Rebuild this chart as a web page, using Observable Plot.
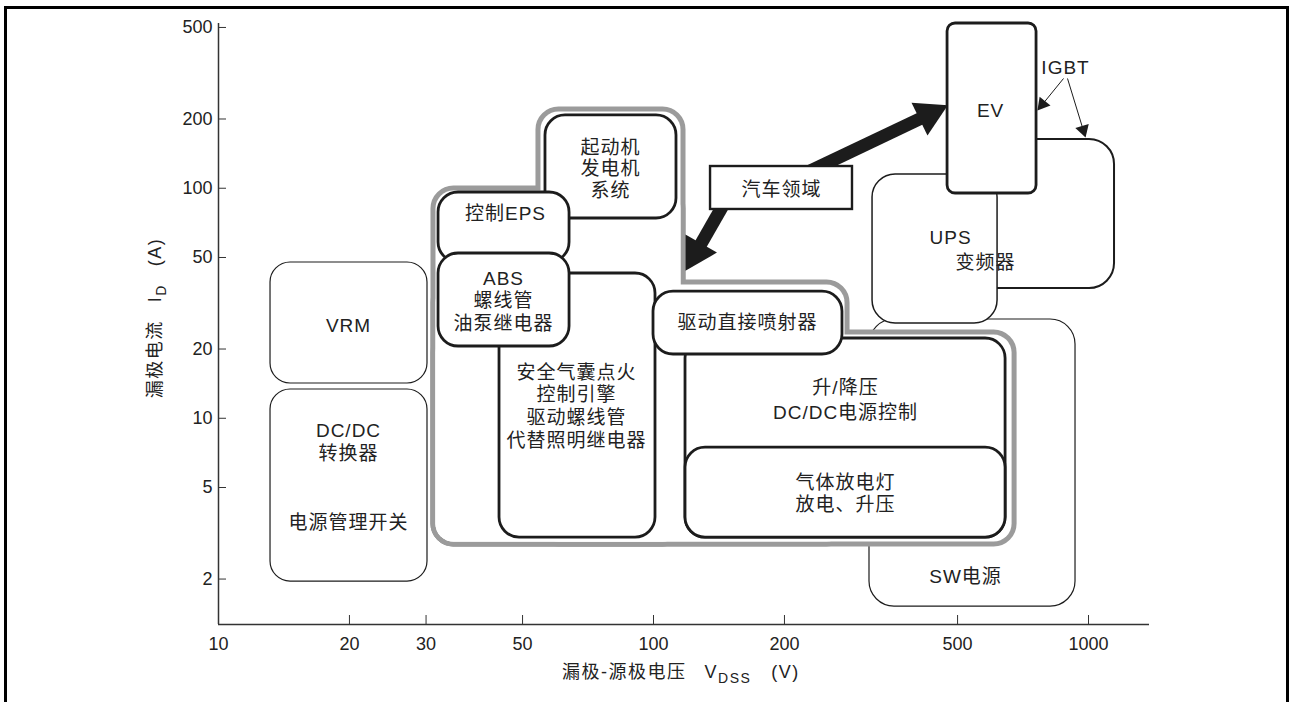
<!DOCTYPE html>
<html>
<head>
<meta charset="utf-8">
<script src="https://cdn.jsdelivr.net/npm/d3@7"></script>
<script src="https://cdn.jsdelivr.net/npm/@observablehq/plot@0.6"></script>
<style>
html, body { margin: 0; padding: 0; background: #fff; overflow: hidden; }
#wrap { position: relative; width: 1289px; height: 702px; overflow: hidden; }
#wrap svg { position: absolute; left: 0; top: 0; }
#frame { position: absolute; left: 4px; top: 6px; width: 1285px; height: 720px; box-sizing: border-box;
  border: 3px solid #000; border-bottom: none; pointer-events: none; }
g[aria-label="text"] text { letter-spacing: 1px; }
</style>
</head>
<body>
<div id="wrap"><div id="frame"></div></div>
<script>
// Axis ticks
const xTicks = [10, 20, 30, 50, 100, 200, 500, 1000];
const yTicks = [2, 5, 10, 20, 50, 100, 200, 500];

// Application regions: drain-source voltage range v1..v2 (V), drain current range a1..a2 (A)
const generalBoxes = [
  {name: "VRM", v1: 13.17, v2: 30.23, a1: 14.16, a2: 47.56},
  {name: "DC/DC", v1: 13.17, v2: 30.23, a1: 1.951, a2: 13.34}
];
const swBox = [{name: "SW电源", v1: 313.7, v2: 933.5, a1: 1.518, a2: 26.88}];
const igbtBox = [{name: "变频器", v1: 507.9, v2: 1147.6, a1: 36.65, a2: 162.9}];
const upsBox = [{name: "UPS", v1: 318.8, v2: 617.9, a1: 25.82, a2: 114.8}];
const automotiveArea = [
  {v1: 31.62, v2: 115.67, a1: 2.897, a2: 97.28},
  {v1: 55.12, v2: 115.67, a1: 2.897, a2: 214.5},
  {v1: 31.62, v2: 275.6, a1: 2.897, a2: 37.96},
  {v1: 31.62, v2: 667.3, a1: 2.897, a2: 23.01}
];
const automotiveBoxes = [
  {name: "起动机发电机系统", v1: 56.45, v2: 112.94, a1: 73.88, a2: 207.2},
  {name: "控制EPS", v1: 32.05, v2: 64.12, a1: 47.56, a2: 95.83},
  {name: "安全气囊点火", v1: 44.26, v2: 101.06, a1: 3.030, a2: 42.59},
  {name: "ABS", v1: 32.05, v2: 64.12, a1: 20.51, a2: 52.03},
  {name: "升/降压", v1: 118.46, v2: 644.7, a1: 3.030, a2: 22.22},
  {name: "气体放电灯", v1: 118.46, v2: 644.7, a1: 3.030, a2: 7.461},
  {name: "驱动直接喷射器", v1: 100, v2: 271.9, a1: 18.93, a2: 35.56}
];
const evBox = [{name: "EV", v1: 474.2, v2: 759.5, a1: 94.88, a2: 520.2}];
const autoTag = [{name: "汽车领域", v1: 135.24, v2: 286.7, a1: 80.85, a2: 124.3}];

// Arrows (start -> head), head direction in degrees
const bigArrows = [
  {v1: 218.9, a1: 114.0, v2: 429.7, a2: 209.2, angle: 64},
  {v1: 148.4, a1: 91.97, v2: 125.2, a2: 52.50, angle: 210}
];
const igbtArrows = [
  {v1: 876.1, a1: 300.0, v2: 783.9, a2: 231.7, angle: 219},
  {v1: 894.8, a1: 300.0, v2: 972.3, a2: 179.4, angle: 163}
];

// Text labels
const labels = [
  {text: "VRM", v: 19.90, a: 25.31},
  {text: "DC/DC", v: 19.90, a: 8.845},
  {text: "转换器", v: 19.90, a: 7.026},
  {text: "电源管理开关", v: 19.90, a: 3.522},
  {text: "起动机", v: 79.63, a: 150.4},
  {text: "发电机", v: 79.63, a: 121.9},
  {text: "系统", v: 79.63, a: 97.77},
  {text: "控制EPS", v: 45.69, a: 77.68},
  {text: "ABS", v: 45.21, a: 40.51},
  {text: "螺线管", v: 45.21, a: 32.50},
  {text: "油泵继电器", v: 45.21, a: 25.82},
  {text: "安全气囊点火", v: 66.54, a: 15.81},
  {text: "控制引擎", v: 66.54, a: 12.69},
  {text: "驱动螺线管", v: 66.54, a: 10.08},
  {text: "代替照明继电器", v: 66.54, a: 8.003},
  {text: "驱动直接喷射器", v: 164.5, a: 26.09},
  {text: "升/降压", v: 276.3, a: 13.61},
  {text: "DC/DC电源控制", v: 276.3, a: 10.59},
  {text: "气体放电灯", v: 276.3, a: 5.256},
  {text: "放电、升压", v: 276.3, a: 4.217},
  {text: "汽车领域", v: 196.9, a: 98.76},
  {text: "UPS", v: 481.7, a: 61.08},
  {text: "变频器", v: 579.9, a: 47.56},
  {text: "EV", v: 595.5, a: 217.8},
  {text: "IGBT", v: 885.4, a: 335.0},
  {text: "SW电源", v: 521.5, a: 2.051}
];

const INK = "#1c1c1c";
const GRAY = "#9b9b9b";
const box = (data, opts) => Plot.rect(data, {x1: "v1", x2: "v2", y1: "a1", y2: "a2", fill: "white", stroke: INK, ...opts});

const chart = Plot.plot({
  width: 1289,
  height: 702,
  marginLeft: 218,
  marginRight: 140,
  marginTop: 23,
  marginBottom: 78,
  style: {fontFamily: '"Liberation Sans", Arial, "Noto Sans CJK SC", sans-serif', fontSize: "18px", color: "#222", background: "transparent"},
  x: {type: "log", domain: [10, 1381]},
  y: {type: "log", domain: [1.269, 520.2]},
  marks: [
    box(generalBoxes, {strokeWidth: 1.2, rx: 20}),
    box(swBox, {strokeWidth: 1.2, rx: 25}),
    box(igbtBox, {strokeWidth: 2, rx: 25}),
    box(upsBox, {strokeWidth: 1.5, rx: 23}),
    // automotive area (gray outline of the union)
    Plot.rect(automotiveArea, {x1: "v1", x2: "v2", y1: "a1", y2: "a2", fill: "none", stroke: GRAY, strokeWidth: 10, rx: 18}),
    Plot.rect(automotiveArea, {x1: "v1", x2: "v2", y1: "a1", y2: "a2", fill: "white", rx: 18}),
    box(automotiveBoxes, {strokeWidth: 2.8, rx: 20}),
    box(evBox, {strokeWidth: 2.8, rx: 8}),
    Plot.link(bigArrows, {x1: "v1", y1: "a1", x2: "v2", y2: "a2", stroke: INK, strokeWidth: 13, strokeLinecap: "butt"}),
    Plot.dot(bigArrows, {x: "v2", y: "a2", symbol: "triangle", r: 13.5, rotate: "angle", fill: INK, stroke: null}),
    box(autoTag, {strokeWidth: 2.4, rx: 0}),
    Plot.link(igbtArrows, {x1: "v1", y1: "a1", x2: "v2", y2: "a2", stroke: INK, strokeWidth: 1}),
    Plot.dot(igbtArrows, {x: "v2", y: "a2", symbol: "triangle", r: 5.2, rotate: "angle", fill: INK, stroke: null}),
    Plot.text(labels, {x: "v", y: "a", text: "text", fontSize: 19, fill: "#222"}),
    Plot.ruleX([10], {stroke: "#333", strokeWidth: 1.5}),
    Plot.ruleY([1.269], {stroke: "#333", strokeWidth: 1.5}),
    Plot.axisX(xTicks, {tickSize: -9, tickPadding: 21.5, tickFormat: d => String(d), fontSize: 18, stroke: "#333"}),
    Plot.axisY(yTicks, {tickSize: -8, tickPadding: 14, tickFormat: d => String(d), fontSize: 18, stroke: "#333"})
  ]
});

const wrap = document.getElementById("wrap");
wrap.insertBefore(chart, document.getElementById("frame"));

// Axis titles with subscripts
const svg = d3.select(chart);
const xt = svg.append("text")
  .attr("x", 562).attr("y", 678)
  .attr("text-anchor", "start")
  .attr("fill", "#222").attr("font-size", 18).style("letter-spacing", "1.5px");
xt.append("tspan").text("漏极-源极电压");
xt.append("tspan").attr("dx", 18).text("V");
xt.append("tspan").attr("font-size", 14).attr("dy", 5).text("DSS");
xt.append("tspan").attr("dx", 20).attr("dy", -5).text("(V)");

const yt = svg.append("text")
  .attr("transform", "translate(161,318) rotate(-90)")
  .attr("text-anchor", "middle")
  .attr("fill", "#222").attr("font-size", 18).style("letter-spacing", "1.5px");
yt.append("tspan").text("漏极电流");
yt.append("tspan").attr("dx", 18).text("I");
yt.append("tspan").attr("font-size", 14).attr("dy", 5).text("D");
yt.append("tspan").attr("dx", 18).attr("dy", -5).text("(A)");
</script>
</body>
</html>
